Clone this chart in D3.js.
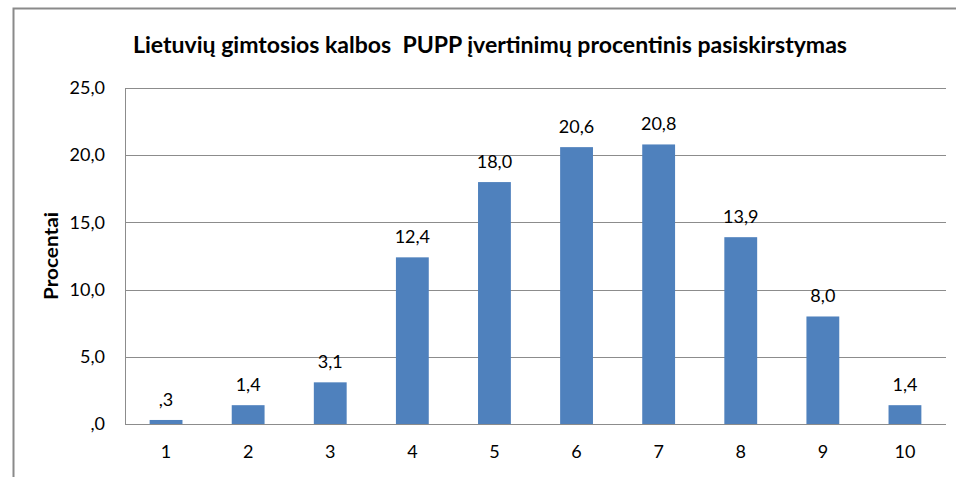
<!DOCTYPE html>
<html><head><meta charset="utf-8">
<script src="https://cdn.jsdelivr.net/npm/d3@7"></script>
<style>body{margin:0;background:#fff}svg{display:block}text{font-family:Lato,"Open Sans",sans-serif;fill:#000}</style>
</head><body>
<svg id="c" width="956" height="477"></svg>
<script>
const categories = ["1","2","3","4","5","6","7","8","9","10"];
const values = [0.3, 1.4, 3.1, 12.4, 18.0, 20.6, 20.8, 13.9, 8.0, 1.4];
const yTicks = [0, 5, 10, 15, 20, 25];
const title = "Lietuvių gimtosios kalbos  PUPP įvertinimų procentinis pasiskirstymas";
const yTitle = "Procentai";

const fmt = v => { let s = v.toFixed(1).replace(".", ","); if (s.startsWith("0,")) s = s.slice(1); return s; };

const svg = d3.select("#c");
const m = {l:125, r:946, t:88, b:424};
const x = d3.scaleBand().domain(categories).range([m.l, m.r]).paddingInner(0.6).paddingOuter(0.3);
const y = d3.scaleLinear().domain([0,25]).range([m.b, m.t]);

// outer frame
svg.append("path").attr("d", `M13.5,477 L13.5,8.5 L956,8.5`).attr("fill","none").attr("stroke","#8a8a8a").attr("stroke-width",2);

// gridlines
svg.append("g").selectAll("line").data(yTicks).join("line")
  .attr("x1", m.l).attr("x2", m.r)
  .attr("y1", d => Math.round(y(d))+0.5).attr("y2", d => Math.round(y(d))+0.5)
  .attr("stroke","#8c8c8c").attr("stroke-width",1);
// y axis line
svg.append("line").attr("x1", m.l+0.5).attr("x2", m.l+0.5).attr("y1", m.t).attr("y2", m.b+0.5).attr("stroke","#8c8c8c");

// y tick labels
const yAxis = d3.axisLeft(y).tickValues(yTicks).tickFormat(fmt).tickSize(0).tickPadding(20);
const ga = svg.append("g").attr("transform", `translate(${m.l},0)`).call(yAxis);
ga.select(".domain").remove();
ga.selectAll("text").attr("font-size", 18).attr("font-family","Lato, sans-serif").attr("fill","#000");

// x tick labels
const xAxis = d3.axisBottom(x).tickSize(0).tickPadding(21);
const gx = svg.append("g").attr("transform", `translate(0,${m.b})`).call(xAxis);
gx.select(".domain").remove();
gx.selectAll("text").attr("font-size", 18).attr("font-family","Lato, sans-serif").attr("fill","#000");

// bars
svg.append("g").selectAll("rect").data(values).join("rect")
  .attr("x", (d,i) => x(categories[i]))
  .attr("width", x.bandwidth())
  .attr("y", d => y(d))
  .attr("height", d => m.b - y(d))
  .attr("fill", "#4f81bd");

// value labels
svg.append("g").selectAll("text").data(values).join("text")
  .attr("x", (d,i) => x(categories[i]) + x.bandwidth()/2)
  .attr("y", d => y(d) - 14)
  .attr("text-anchor","middle").attr("font-size",18)
  .text(d => fmt(d));

// title
svg.append("text").attr("x", 490).attr("y", 53).attr("text-anchor","middle")
  .style("white-space","pre")
  .attr("font-size", 22).attr("font-weight","bold")
  .attr("textLength", 714).attr("lengthAdjust","spacingAndGlyphs")
  .text(title);

// y title
svg.append("text").attr("transform", `translate(58,256) rotate(-90)`).attr("text-anchor","middle")
  .attr("font-size", 18).attr("font-weight","bold")
  .attr("textLength", 88).attr("lengthAdjust","spacingAndGlyphs").text(yTitle);
</script>
</body></html>
